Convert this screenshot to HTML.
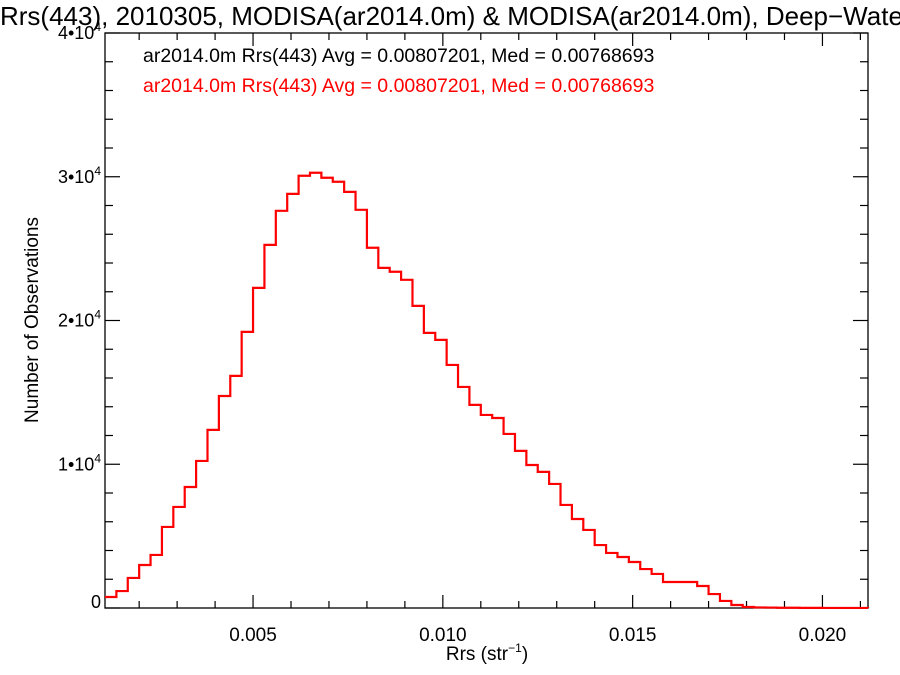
<!DOCTYPE html>
<html><head><meta charset="utf-8"><style>
html,body{margin:0;padding:0;background:#fff;}
svg{display:block;font-family:"Liberation Sans",Arial,sans-serif;}
</style></head><body>
<svg id="chart" width="900" height="675">
<text x="0" y="25" font-size="26" fill="#000">Rrs(443), 2010305, MODISA(ar2014.0m) &amp; MODISA(ar2014.0m), Deep−Water</text>
<text x="143" y="62" font-size="19.5" fill="#000">ar2014.0m Rrs(443) Avg = 0.00807201, Med = 0.00768693</text>
<text x="143" y="92" font-size="19.5" fill="#ff0000">ar2014.0m Rrs(443) Avg = 0.00807201, Med = 0.00768693</text>
<text x="487" y="660" font-size="19" text-anchor="middle">Rrs (str<tspan font-size="12" dy="-8">−1</tspan><tspan dy="8">)</tspan></text>
<text transform="translate(38,320) rotate(-90)" font-size="19" text-anchor="middle">Number of Observations</text>
<g id="axes"></g>
<path id="hist" fill="none" stroke="#ff0000" stroke-width="2.2"></path>
</svg>
<script>
const binStart = 0.0011;
const binWidth = 0.0003;
const counts = [765,1180,2090,2990,3690,5640,7030,8420,10230,12390,14750,16150,19210,22270,25260,27630,28810,30070,30280,29930,29650,28950,27700,25060,23660,23390,22830,21020,19140,18650,16910,15380,14130,13430,13220,12110,10930,9950,9470,8630,7170,6190,5430,4380,3830,3550,3200,2710,2370,1810,1810,1810,1530,970,490,210,70,40,30,20,15,10,8,5,5,3,3,2];
const xTicks = [0.005,0.010,0.015,0.020];
const xTickLabels = ["0.005","0.010","0.015","0.020"];
const yTicks = [0,10000,20000,30000,40000];
const yTickLabels = ["0","1","2","3","4"];

const L=105,R=868,T=33,B=608;
const xMin=0.0011,xMax=0.0212,yMin=0,yMax=40000;
const sx=v=>L+(v-xMin)/(xMax-xMin)*(R-L);
const sy=v=>B-(v-yMin)/(yMax-yMin)*(B-T);
const NS="http://www.w3.org/2000/svg";
const ax=document.getElementById('axes');
function mk(tag,attrs){const e=document.createElementNS(NS,tag);for(const k in attrs)e.setAttribute(k,attrs[k]);ax.appendChild(e);return e;}
const frame=mk('rect',{x:L,y:T,width:R-L,height:B-T,fill:'none',stroke:'#000','stroke-width':1.3});


for(let k=2;k<=21;k++){const v=k*0.001;if(v<xMin||v>xMax)continue;const x=sx(v);const major=(k%5===0);const len=major?13:7;
 const t1=mk('line',{x1:x,x2:x,y1:B,y2:B-len,stroke:'#000','stroke-width':1.2});
 
 
 const t2=mk('line',{x1:x,x2:x,y1:T,y2:T+len,stroke:'#000','stroke-width':1.2});
 
 }
xTicks.forEach((v,i)=>{const t=mk('text',{x:sx(v),y:B+33,'font-size':19,'text-anchor':'middle'});t.textContent=xTickLabels[i];
 
 });
for(let v=0;v<=yMax;v+=2000){const y=sy(v);const major=(v%10000===0);const len=major?15:8;
 const t1=mk('line',{x1:L,x2:L+len,y1:y,y2:y,stroke:'#000','stroke-width':1.2});
 
 
 const t2=mk('line',{x1:R,x2:R-len,y1:y,y2:y,stroke:'#000','stroke-width':1.2});
 
 }
yTicks.forEach((v,i)=>{const t=mk('text',{x:L-4,y:sy(v)+(v===0?0:6),'font-size':18,'text-anchor':'end'});
 if(v===0){t.textContent='0';}else{t.innerHTML=yTickLabels[i]+'•10<tspan font-size="12" dy="-8">4</tspan>';}
 
 });
let d='';
counts.forEach((c,i)=>{let x0=sx(binStart+i*binWidth),x1=Math.min(R,sx(binStart+(i+1)*binWidth));const y=sy(c);
 d+=(i===0?'M'+x0+','+y:' L'+x0+','+y)+' L'+x1+','+y;});
document.getElementById('hist').setAttribute('d',d);
</script>
</body></html>
